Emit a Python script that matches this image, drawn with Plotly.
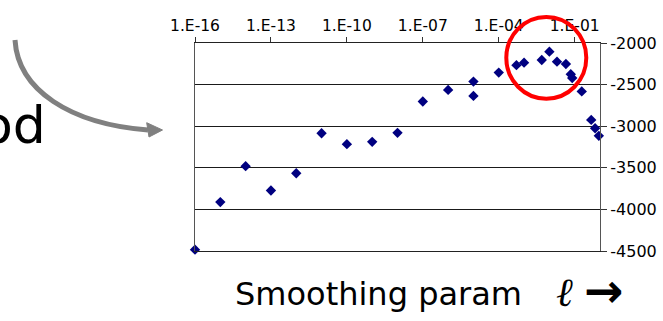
import plotly.graph_objects as go

# ---- data ----
smoothing = [1e-16, 1e-15, 1e-14, 1e-13, 1e-12, 1e-11, 1e-10, 1e-9, 1e-8,
             1e-7, 1e-6, 1e-5, 1e-5, 1e-4, 5e-4, 1e-3, 5e-3, 1e-2, 2e-2,
             4.5e-2, 7e-2, 8e-2, 0.19, 0.45, 0.64, 0.9]
loglik = [-4484, -3912, -3480, -3773, -3565, -3084, -3216, -3188, -3080,
          -2704, -2564, -2464, -2636, -2356, -2266, -2236, -2204, -2104, -2224,
          -2252, -2376, -2420, -2582, -2924, -3024, -3116]

x_tickvals = [1e-16, 1e-13, 1e-10, 1e-7, 1e-4, 1e-1]
x_ticktext = ["1.E-16", "1.E-13", "1.E-10", "1.E-07", "1.E-04", "1.E-01"]
y_tickvals = [-2000, -2500, -3000, -3500, -4000, -4500]
y_ticktext = ["-2000", "-2500", "-3000", "-3500", "-4000", "-4500"]

W, H = 663, 321
ML, MR, MT, MB = 195, 63, 43, 70
PW, PH = W - ML - MR, H - MT - MB


def fx(px):
    return (px - ML) / PW


def fy(py):
    return (H - MB - py) / PH


FONT = "DejaVu Sans, Liberation Sans, Arial, sans-serif"

fig = go.Figure()
fig.add_trace(go.Scatter(
    x=smoothing, y=loglik, mode="markers",
    marker=dict(symbol="diamond", size=8, color="#000080"),
    cliponaxis=False, showlegend=False,
))

fig.update_layout(
    width=W, height=H,
    margin=dict(l=ML, r=MR, t=MT, b=MB, autoexpand=False),
    paper_bgcolor="white", plot_bgcolor="white",
    font=dict(family=FONT, color="black"),
    xaxis=dict(
        type="log", range=[-16, 0], side="top", automargin=False,
        tickvals=x_tickvals, ticktext=x_ticktext,
        ticks="outside", ticklen=5, tickcolor="#333", tickwidth=1,
        showgrid=False, zeroline=False,
        showline=True, linecolor="#222", linewidth=1, mirror=True,
        tickfont=dict(size=15.5, family=FONT, color="black"),
    ),
    yaxis=dict(
        range=[-4500, -2000], side="right", automargin=False,
        tickvals=y_tickvals, ticktext=y_ticktext,
        ticks="outside", ticklen=6, tickcolor="#333", tickwidth=1,
        showgrid=True, gridcolor="#1a1a1a", gridwidth=1.2, zeroline=False,
        showline=True, linecolor="#555", linewidth=1.2, mirror=True,
        tickfont=dict(size=16, family=FONT, color="black"),
    ),
)

# curved grey arrow
p0, p1, p2, p3 = (15, 40), (18, 90), (70, 124), (148, 130)
path = "M {},{} C {},{} {},{} {},{}".format(
    fx(p0[0]), fy(p0[1]), fx(p1[0]), fy(p1[1]),
    fx(p2[0]), fy(p2[1]), fx(p3[0]), fy(p3[1]))
fig.add_shape(type="path", path=path, xref="paper", yref="paper",
              line=dict(color="#808080", width=5))
head = "M {},{} L {},{} L {},{} Z".format(
    fx(162.5), fy(130), fx(146.7), fy(122.7), fx(149), fy(137))
fig.add_shape(type="path", path=head, xref="paper", yref="paper",
              line=dict(color="#808080", width=1), fillcolor="#808080")

# red circle
fig.add_shape(type="circle", xref="paper", yref="paper",
              x0=fx(506.3), x1=fx(586.3), y0=fy(98.7), y1=fy(17),
              line=dict(color="#ff0000", width=4))

# texts
fig.add_annotation(text="od", xref="paper", yref="paper",
                   x=fx(48), y=fy(125), xanchor="right", yanchor="middle",
                   showarrow=False, font=dict(size=52, family=FONT, color="black"))
fig.add_annotation(text="Smoothing param", xref="paper", yref="paper",
                   x=fx(232.5), y=fy(293.5), xanchor="left", yanchor="middle",
                   showarrow=False, font=dict(size=32, family=FONT, color="black"))
fig.add_annotation(text="<i>\u2113</i>", xref="paper", yref="paper",
                   x=fx(564), y=fy(291.5), xanchor="center", yanchor="middle",
                   showarrow=False,
                   font=dict(size=40, family="DejaVu Serif, serif", color="black"))
fig.add_annotation(text="<b>\u2192</b>", xref="paper", yref="paper",
                   x=fx(603.5), y=fy(290.5), xanchor="center", yanchor="middle",
                   showarrow=False, font=dict(size=47, family=FONT, color="black"))

fig.write_html("out.html")
